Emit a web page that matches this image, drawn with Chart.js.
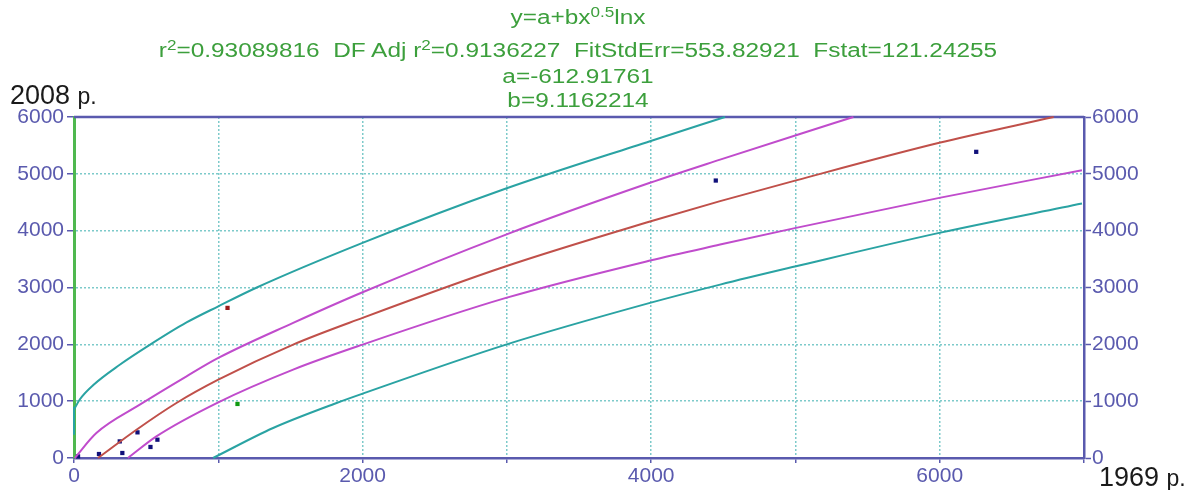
<!DOCTYPE html>
<html lang="en">
<head>
    <meta charset="UTF-8">
    <title>y=a+bx^0.5lnx</title>
    <style>
        body {
            margin: 0;
            background: #fff;
            font-family: "Liberation Sans", Arial, sans-serif;
        }
        .wrap {
            position: relative;
            width: 1192px;
            height: 490px;
        }
        canvas {
            position: absolute;
            left: 0;
            top: 0;
        }
        .fit {
            position: absolute;
            left: 0;
            width: 1156px;
            text-align: center;
            color: #3c9f3c;
            font-size: 20px;
            line-height: 22px;
            white-space: pre;
            transform: scaleX(1.22);
            transform-origin: 578px 0;
        }
        .fit sup {
            font-size: 14px;
            vertical-align: 7px;
            line-height: 0;
        }
        .corner {
            position: absolute;
            color: #1a1a1a;
            font-size: 27px;
            line-height: 26px;
            white-space: nowrap;
        }
        .corner span {
            font-size: 23px;
        }
    </style>
</head>
<body>
    <div class="wrap">
        <canvas id="fit-chart" width="1192" height="490"></canvas>
        <!-- fit summary -->
        <div class="fit" style="top:6px">y=a+bx<sup>0.5</sup>lnx</div>
        <div class="fit" style="top:39px">r<sup>2</sup>=0.93089816  DF Adj r<sup>2</sup>=0.9136227  FitStdErr=553.82921  Fstat=121.24255</div>
        <div class="fit" style="top:65px">a=-612.91761</div>
        <div class="fit" style="top:89px">b=9.1162214</div>
        <div class="corner" style="left:10px; top:82px">2008 <span>p.</span></div>
        <div class="corner" style="left:1099px; top:464px">1969 <span>p.</span></div>
    </div>

    <script src="https://cdn.jsdelivr.net/npm/chart.js"></script>
    <script>
        // observed points (x = 1969, y = 2008)
        const pointsX = [28, 173, 317, 335, 440, 530, 578, 4448, 6253];
        const pointsY = [28, 70, 292, 88, 451, 194, 322, 4882, 5387];
        const outlierRedX = [1064];
        const outlierRedY = [2641];
        const outlierGreenX = [1133];
        const outlierGreenY = [951];

        // fitted curve
        const fitX = [166, 433, 710, 1000, 1519, 2000, 2994, 3992, 4478, 5004, 5997, 6790];
        const fitY = [0, 498, 968, 1378, 1995, 2465, 3373, 4160, 4520, 4885, 5546, 6000];

        // confidence band
        const confUpX = [5, 155, 456, 780, 1000, 1519, 2000, 2994, 3992, 4478, 5004, 5402];
        const confUpY = [0, 440, 938, 1437, 1760, 2377, 2916, 3931, 4842, 5250, 5680, 6000];
        const confLoX = [374, 571, 1000, 1519, 2000, 2994, 3992, 4478, 5004, 5997, 6986];
        const confLoY = [0, 380, 979, 1555, 1995, 2817, 3474, 3755, 4049, 4577, 5063];

        // prediction band
        const predStemX = [0, 0];
        const predStemY = [410, 900];
        const predUpX = [0, 40, 132, 317, 525, 780, 1000, 1267, 2000, 2994, 3992, 4512];
        const predUpY = [850, 1030, 1280, 1640, 1990, 2385, 2669, 3000, 3785, 4741, 5574, 6000];
        const predLoX = [964, 1380, 1820, 2000, 2994, 3992, 4478, 5004, 5997, 6986];
        const predLoY = [0, 528, 968, 1132, 1995, 2729, 3051, 3373, 3961, 4477];

        const xTicksShown = [0, 2000, 4000, 6000];

        const axisBlue = '#5a5aae';
        const gridTeal = 'rgba(70,180,180,0.7)';
        const teal = '#2aa3a3';
        const magenta = '#c04ccc';
        const brick = '#c0504a';

        function pairs(xs, ys) {
            return xs.map((x, i) => ({ x: x, y: ys[i] }));
        }

        function curve(xs, ys, color) {
            return {
                data: pairs(xs, ys),
                showLine: true,
                borderColor: color,
                borderWidth: 2,
                pointRadius: 0,
                cubicInterpolationMode: 'monotone',
                clip: 4
            };
        }

        function dots(xs, ys, color) {
            return {
                data: pairs(xs, ys),
                showLine: false,
                pointStyle: 'rect',
                pointRadius: 3,
                backgroundColor: color,
                borderColor: color,
                borderWidth: 0,
                clip: 6
            };
        }

        // top edge of the frame
        const framePlugin = {
            id: 'frameTop',
            beforeDatasetsDraw(chart) {
                const a = chart.chartArea;
                const c = chart.ctx;
                c.save();
                c.strokeStyle = axisBlue;
                c.lineWidth = 2.5;
                c.beginPath();
                c.moveTo(a.left, a.top);
                c.lineTo(a.right, a.top);
                c.stroke();
                c.restore();
            }
        };

        const tickFont = { family: '"Liberation Sans", Arial, sans-serif', size: 21 };

        new Chart(document.getElementById('fit-chart'), {
            type: 'scatter',
            data: {
                datasets: [
                    curve(predStemX, predStemY, teal),
                    curve(predUpX, predUpY, teal),
                    curve(predLoX, predLoY, teal),
                    curve(confUpX, confUpY, magenta),
                    curve(confLoX, confLoY, magenta),
                    curve(fitX, fitY, brick),
                    dots(pointsX, pointsY, '#10107a'),
                    dots(outlierRedX, outlierRedY, '#9a1a1a'),
                    dots(outlierGreenX, outlierGreenY, '#109a10')
                ]
            },
            options: {
                responsive: false,
                devicePixelRatio: 1,
                animation: false,
                layout: { padding: { top: 117, left: 0, right: 0, bottom: 0 } },
                plugins: {
                    legend: { display: false },
                    tooltip: { enabled: false }
                },
                scales: {
                    x: {
                        type: 'linear',
                        min: 0,
                        max: 7000,
                        afterFit: (s) => { s.height = 32; },
                        ticks: {
                            stepSize: 1000,
                            color: axisBlue,
                            font: tickFont,
                            padding: 1,
                            maxRotation: 0,
                            autoSkip: false,
                            callback: (v) => xTicksShown.includes(v) ? String(v) : ''
                        },
                        grid: { color: gridTeal, lineWidth: 1.5, tickColor: axisBlue, tickLength: 5, tickWidth: 1.5 },
                        border: { color: axisBlue, width: 2.5, dash: [2, 2] }
                    },
                    y: {
                        position: 'left',
                        min: 0,
                        max: 6000,
                        afterFit: (s) => { s.width = 74; },
                        ticks: { stepSize: 1000, color: axisBlue, font: tickFont, padding: 3, callback: (v) => String(v) },
                        grid: { color: gridTeal, lineWidth: 1.5, tickColor: axisBlue, tickLength: 7, tickWidth: 1.5 },
                        border: { color: '#4fb84f', width: 3, dash: [2, 2] }
                    },
                    y2: {
                        position: 'right',
                        min: 0,
                        max: 6000,
                        afterFit: (s) => { s.width = 108; },
                        ticks: { stepSize: 1000, color: axisBlue, font: tickFont, padding: 1, callback: (v) => String(v) },
                        grid: { drawOnChartArea: false, tickColor: axisBlue, tickLength: 7, tickWidth: 1.5 },
                        border: { color: axisBlue, width: 2.5 }
                    }
                }
            },
            plugins: [framePlugin]
        });
    </script>
</body>
</html>
